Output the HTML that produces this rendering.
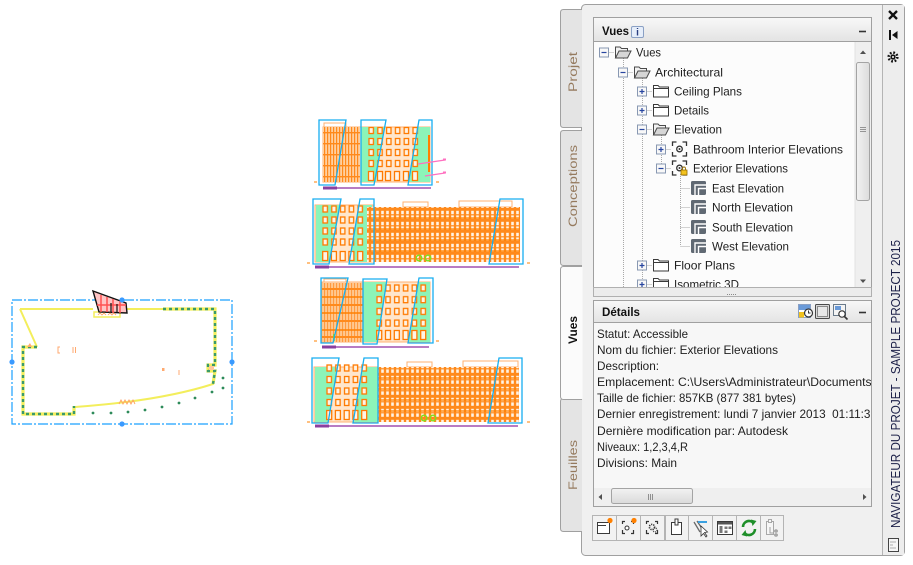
<!DOCTYPE html>
<html><head><meta charset="utf-8"><style>
html,body{margin:0;padding:0;background:#fff;width:913px;height:565px;overflow:hidden}
svg{display:block}
text{font-family:"Liberation Sans",sans-serif}
</style></head><body>
<svg width="913" height="565" viewBox="0 0 913 565" xmlns="http://www.w3.org/2000/svg">
<defs>
 <linearGradient id="hdr" x1="0" y1="0" x2="0" y2="1"><stop offset="0" stop-color="#f8f8f8"/><stop offset="1" stop-color="#e3e3e3"/></linearGradient>
 <linearGradient id="thumb" x1="0" y1="0" x2="1" y2="0"><stop offset="0" stop-color="#f2f2f2"/><stop offset="1" stop-color="#dcdcdc"/></linearGradient>
 <linearGradient id="thumbh" x1="0" y1="0" x2="0" y2="1"><stop offset="0" stop-color="#f2f2f2"/><stop offset="1" stop-color="#dadada"/></linearGradient>
 <pattern id="og" x="0" y="0" width="5" height="11" patternUnits="userSpaceOnUse">
  <rect width="5" height="11" fill="#ff8a1c"/>
  <rect x="1.2" y="1.8" width="2.6" height="3.4" fill="#fff3e4"/>
  <rect x="1.2" y="6.4" width="2.6" height="3.4" fill="#fff3e4"/>
 </pattern>
 <pattern id="lg" x="0" y="0" width="3" height="11" patternUnits="userSpaceOnUse">
  <rect width="3" height="11" fill="#ffd0a0"/>
  <rect x="0" width="1.2" height="11" fill="#ff8a1c"/>
  <rect y="0" width="3" height="1.4" fill="#ff8a1c"/>
 </pattern>
 <pattern id="lg3" x="0" y="0" width="3" height="16" patternUnits="userSpaceOnUse">
  <rect width="3" height="16" fill="#ffc890"/>
  <rect x="0" width="1.1" height="16" fill="#ff9a40"/>
  <rect y="0" width="3" height="2" fill="#ff8a1c"/>
 </pattern>
 <pattern id="w1" x="367" y="126" width="8.8" height="11" patternUnits="userSpaceOnUse">
  <rect x="2" y="1.5" width="4.4" height="6" fill="#fff4e6" stroke="#ff7a00" stroke-width="1.3"/>
 </pattern>
 <pattern id="w2" x="321" y="205" width="8.75" height="11" patternUnits="userSpaceOnUse">
  <rect x="2" y="1" width="4.4" height="6" fill="#fff4e6" stroke="#ff7a00" stroke-width="1.3"/>
 </pattern>
 <pattern id="w3" x="375" y="284" width="8.8" height="11.7" patternUnits="userSpaceOnUse">
  <rect x="2" y="1" width="4.4" height="6" fill="#fff4e6" stroke="#ff7a00" stroke-width="1.3"/>
 </pattern>
 <pattern id="w4" x="325" y="364" width="8.75" height="11.5" patternUnits="userSpaceOnUse">
  <rect x="2" y="1" width="4.4" height="6" fill="#fff4e6" stroke="#ff7a00" stroke-width="1.3"/>
 </pattern>
 <g id="ofold">
  <path d="M1.5,6 V-5 H6 L7.5,-3.5 H13.5 V-1" fill="#f2f2f2" stroke="#4a4a4a" stroke-width="1"/>
  <path d="M1.5,6 L5,-1 H17 L13.5,6 Z" fill="#d6d6d6" stroke="#4a4a4a" stroke-width="1"/>
 </g>
 <g id="cfold">
  <path d="M1.5,-5.5 H6 L7.5,-4 H16.5 V6 H1.5 Z" fill="#fff" stroke="#3a3a3a" stroke-width="1"/>
  <path d="M1.5,-2.5 H16.5" stroke="#3a3a3a" stroke-width="1"/>
 </g>
 <g id="vgrp">
  <path d="M1.5,-3 V-7 H5.5 M11.5,-7 H15.5 V-3 M15.5,3 V7 H11.5 M5.5,7 H1.5 V3" fill="none" stroke="#333" stroke-width="1.3"/>
  <circle cx="8.5" cy="0" r="2.8" fill="#fff" stroke="#333" stroke-width="1.3"/>
  <circle cx="8.5" cy="0" r="1" fill="#333"/>
 </g>
 <g id="elev">
  <rect x="1" y="-7" width="15" height="14" rx="1.5" fill="#606973"/>
  <path d="M5,7 V-3 H16 M8.5,7 V0.5 H16" fill="none" stroke="#fff" stroke-width="1.4"/>
 </g>
 <g id="mn">
  <rect x="-4.5" y="-4.5" width="9" height="9" fill="#f8f8f8" stroke="#8898b2" stroke-width="1"/>
  <path d="M-2.5,0 H2.5" stroke="#2846a0" stroke-width="1.2"/>
 </g>
 <g id="pl">
  <rect x="-4.5" y="-4.5" width="9" height="9" fill="#f8f8f8" stroke="#8898b2" stroke-width="1"/>
  <path d="M-2.5,0 H2.5 M0,-2.5 V2.5" stroke="#2846a0" stroke-width="1.2"/>
 </g>
 <clipPath id="treeclip"><rect x="594" y="42" width="261" height="245"/></clipPath>
 <clipPath id="detclip"><rect x="594" y="323" width="277" height="165"/></clipPath>
</defs>

<rect width="913" height="565" fill="#fff"/>

<!-- ============ LEFT PLAN ============ -->
<rect x="12" y="300" width="220" height="124" fill="none" stroke="#1aa0ff" stroke-width="1.2" stroke-dasharray="10 2 2 2"/>
<path d="M20,309 L93,309 M127,309 L215,309 L215,365 M215,371 L213,384 Q160,401 75,407 M20,309 L37,347" stroke="#f3ee5c" stroke-width="2" fill="none"/>
<path d="M37,347 L23,347 L23,414 L74,414 L74,406 M163,309 L215,309 L215,365 L208,365 L208,371 L215,371 L213,384" stroke="#f3ee5c" stroke-width="3.2" fill="none"/>
<path d="M37,347 L23,347 L23,414 L74,414 L74,406 M163,309 L215,309 L215,365 L208,365 L208,371 L215,371 L213,384" stroke="#3a9a6a" stroke-width="2.4" fill="none" stroke-dasharray="3 3"/>
<rect x="94" y="312" width="26" height="5" fill="none" stroke="#f3ee5c" stroke-width="1.5"/>
<polygon points="93,291 126,303 127,313 99,312" fill="#ffc4c4" stroke="#111" stroke-width="1.4"/>
<path d="M101,295 V312 M107,297 V312 M113,299 V313 M120,301 V313 M97,305 H126" stroke="#ff5050" stroke-width="1.5"/>
<path d="M111,303 V313 M117,304 V313" stroke="#111" stroke-width="1.2"/>
<path d="M98,315 L100,313 L102,315 L104,313 L106,315 M108,315 L110,313 L112,315 L114,313 L116,315" stroke="#ffa060" stroke-width="0.8" fill="none"/>
<g fill="#ffaa70">
 <path d="M27,347 L30,343 L32,347 Z"/>
 <path d="M60,347 H58 V353 H60" stroke="#ffaa70" fill="none"/>
 <rect x="72.5" y="347" width="1" height="6"/><rect x="75" y="347" width="1" height="6"/>
 <rect x="162" y="368" width="2.5" height="3"/>
 <rect x="178.5" y="370" width="1" height="5"/>
 <rect x="209" y="366" width="5" height="4" fill="#ffc8a0"/>
</g>
<path d="M119,404 L121,400 L123,404 L125,400 L127,404 L129,400 L131,404 L133,400 L135,404" stroke="#ffa060" stroke-width="0.9" fill="none"/>
<g fill="#2e8b5a">
 <circle cx="93" cy="413" r="1.4"/><circle cx="111" cy="413" r="1.4"/><circle cx="128" cy="412" r="1.4"/>
 <circle cx="145" cy="410" r="1.4"/><circle cx="162" cy="407" r="1.4"/><circle cx="179" cy="403" r="1.4"/>
 <circle cx="195" cy="398" r="1.4"/><circle cx="212" cy="392" r="1.4"/><circle cx="223" cy="388" r="1.4"/>
 <circle cx="223" cy="378" r="1.4"/>
</g>
<g fill="#3a9aff">
 <circle cx="12" cy="362" r="2.6"/><circle cx="232" cy="362" r="2.6"/>
 <circle cx="122" cy="300" r="2.6"/><circle cx="122" cy="424" r="2.6"/>
</g>

<!-- ============ ELEVATION 1 ============ -->
<rect x="324" y="123" width="22" height="4" fill="none" stroke="#ffb070" stroke-width="1"/>
<rect x="323" y="127" width="107" height="55" fill="#ffe6cc" stroke="#ffb070" stroke-width="1"/>
<rect x="323" y="127" width="37" height="55" fill="url(#lg)"/>
<polygon points="361,127 385,127 376,182 361,182" fill="#8cf4b8"/>
<polygon points="417,127 430,127 430,182 409,182" fill="#8cf4b8"/>
<rect x="367" y="126" width="53" height="44" fill="url(#w1)"/>
<g fill="#fff4e6" stroke="#ff7a00" stroke-width="1.3">
 <rect x="368.5" y="171.5" width="5" height="9"/><rect x="377.5" y="171.5" width="5" height="9"/><rect x="385.5" y="171.5" width="5" height="9"/>
 <rect x="394.5" y="171.5" width="5" height="9"/><rect x="403.5" y="171.5" width="5" height="9"/><rect x="412.5" y="171.5" width="5" height="9"/>
</g>
<rect x="428" y="135" width="2" height="37" fill="#ff8000"/>
<g fill="none" stroke="#17aef0" stroke-width="1.3">
 <polygon points="319,120 346,120 335,185 319,185"/>
 <polygon points="361,120 386,120 374,185 361,185"/>
 <polygon points="419,120 432,120 432,185 408,185"/>
</g>
<path d="M323,188 H431" stroke="#a050b0" stroke-width="1.4"/>
<path d="M323,188 H337" stroke="#8a40a0" stroke-width="3"/>
<path d="M314,182 H317 M436,182 H439" stroke="#ff8000" stroke-width="1"/>
<path d="M418,164 L445,160 M425,176 L445,173" stroke="#ff70c0" stroke-width="1.2"/>
<rect x="443" y="158.5" width="3" height="2" fill="#ff70c0"/><rect x="443" y="171.5" width="3" height="2" fill="#ff70c0"/>

<!-- ============ ELEVATION 2 ============ -->
<rect x="403" y="202" width="25" height="5" fill="none" stroke="#ffb070" stroke-width="1"/>
<rect x="459" y="201" width="53" height="6" fill="none" stroke="#ffb070" stroke-width="1"/>
<rect x="315" y="205" width="58" height="57" fill="#ffe6cc" stroke="#ffb070" stroke-width="1"/>
<polygon points="316,205 340,205 329,262 316,262" fill="#8cf4b8"/>
<polygon points="359,205 372,205 372,262 350,262" fill="#8cf4b8"/>
<rect x="367" y="207" width="153" height="55" fill="url(#og)"/>
<path d="M367,218 H520 M367,229 H520 M367,240 H520 M367,251 H520" stroke="#ff8000" stroke-width="1.2"/>
<rect x="321" y="205" width="44" height="44" fill="url(#w2)"/>
<g fill="#fff4e6" stroke="#ff7a00" stroke-width="1.3">
 <rect x="322.7" y="251.5" width="5" height="9"/><rect x="331.4" y="251.5" width="5" height="9"/><rect x="340.2" y="251.5" width="5" height="9"/>
 <rect x="348.9" y="251.5" width="5" height="9"/><rect x="357.7" y="251.5" width="5" height="9"/>
</g>
<g fill="none" stroke="#17aef0" stroke-width="1.3">
 <polygon points="313,199 341,199 329,264 313,264"/>
 <polygon points="360,199 374,199 374,264 349,264"/>
 <polygon points="500,199 523,199 523,264 489,264"/>
</g>
<circle cx="419" cy="258" r="2.8" fill="none" stroke="#7ee020" stroke-width="1.4"/>
<circle cx="428" cy="258" r="2.8" fill="none" stroke="#7ee020" stroke-width="1.4"/>
<path d="M315,267 H519" stroke="#a050b0" stroke-width="1.4"/>
<path d="M315,267 H329" stroke="#8a40a0" stroke-width="3"/>
<path d="M307,263 H310 M527,263 H530" stroke="#ff8000" stroke-width="1"/>

<!-- ============ ELEVATION 3 ============ -->
<rect x="324" y="279" width="22" height="4" fill="none" stroke="#ffb070" stroke-width="1"/>
<rect x="322" y="282" width="108" height="60" fill="#ffe6cc" stroke="#ffb070" stroke-width="1"/>
<rect x="322" y="283" width="41" height="59" fill="url(#lg3)"/>
<path d="M322,297 H363 M322,313 H363 M322,330 H363" stroke="#ff8000" stroke-width="1.4"/>
<polygon points="363,282 386,282 377,342 363,342" fill="#8cf4b8"/>
<polygon points="418,282 430,282 430,342 409,342" fill="#8cf4b8"/>
<rect x="375" y="284" width="53" height="46.8" fill="url(#w3)"/>
<g fill="#fff4e6" stroke="#ff7a00" stroke-width="1.3">
 <rect x="376.7" y="330.5" width="5" height="9"/><rect x="385.5" y="330.5" width="5" height="9"/><rect x="394.3" y="330.5" width="5" height="9"/>
 <rect x="403.1" y="330.5" width="5" height="9"/><rect x="411.9" y="330.5" width="5" height="9"/><rect x="420.7" y="330.5" width="5" height="9"/>
</g>
<path d="M334,334 V341" stroke="#7ee020" stroke-width="1.5"/>
<g fill="none" stroke="#17aef0" stroke-width="1.3">
 <polygon points="321,278 348,278 333,343 321,343"/>
 <polygon points="363,279 387,279 377,344 363,344"/>
 <polygon points="419,278 433,278 433,343 408,343"/>
</g>
<path d="M322,347 H429" stroke="#a050b0" stroke-width="1.4"/>
<path d="M322,347 H336" stroke="#8a40a0" stroke-width="3"/>
<path d="M314,341 H317 M436,341 H439" stroke="#ff8000" stroke-width="1"/>

<!-- ============ ELEVATION 4 ============ -->
<rect x="407" y="362" width="25" height="5" fill="none" stroke="#ffb070" stroke-width="1"/>
<rect x="463" y="361" width="55" height="6" fill="none" stroke="#ffb070" stroke-width="1"/>
<rect x="314" y="367" width="64" height="55" fill="#ffe6cc" stroke="#ffb070" stroke-width="1"/>
<polygon points="315,367 338,367 328,422 315,422" fill="#8cf4b8"/>
<polygon points="363,367 378,367 378,422 354,422" fill="#8cf4b8"/>
<rect x="378" y="367" width="141" height="55" fill="url(#og)"/>
<path d="M378,378 H519 M378,389 H519 M378,400 H519 M378,411 H519" stroke="#ff8000" stroke-width="1.2"/>
<rect x="325" y="364" width="44" height="46" fill="url(#w4)"/>
<g fill="#fff4e6" stroke="#ff7a00" stroke-width="1.3">
 <rect x="326.7" y="410.5" width="5" height="9"/><rect x="335.4" y="410.5" width="5" height="9"/><rect x="344.2" y="410.5" width="5" height="9"/>
 <rect x="352.9" y="410.5" width="5" height="9"/><rect x="361.7" y="410.5" width="5" height="9"/>
</g>
<g fill="none" stroke="#17aef0" stroke-width="1.3">
 <polygon points="312,358 339,358 328,423 312,423"/>
 <polygon points="364,358 378,358 378,423 353,423"/>
 <polygon points="499,358 522,358 522,423 488,423"/>
</g>
<circle cx="424" cy="418" r="2.8" fill="none" stroke="#7ee020" stroke-width="1.4"/>
<circle cx="433" cy="418" r="2.8" fill="none" stroke="#7ee020" stroke-width="1.4"/>
<path d="M315,426 H518" stroke="#a050b0" stroke-width="1.4"/>
<path d="M315,426 H329" stroke="#8a40a0" stroke-width="3"/>
<path d="M307,422 H310 M527,422 H530" stroke="#ff8000" stroke-width="1"/>

<!-- ============ PANEL ============ -->
<rect x="581.5" y="4.5" width="323" height="551" rx="4" fill="#f0f0f0" stroke="#a0a0a0"/>
<rect x="882.5" y="5" width="21.5" height="550" fill="#ededed"/>
<path d="M882.5,5 V555" stroke="#b4b4b4"/>

<!-- tabs -->
<g stroke="#a0a0a0" stroke-width="1">
 <path d="M582,9.5 H563.5 Q560.5,9.5 560.5,12.5 V124.5 Q560.5,127.5 563.5,127.5 H582" fill="#e4e4e4"/>
 <path d="M582,130.5 H563.5 Q560.5,130.5 560.5,133.5 V262.5 Q560.5,265.5 563.5,265.5 H582" fill="#e4e4e4"/>
 <path d="M582,398.5 H563.5 Q560.5,398.5 560.5,401.5 V528.5 Q560.5,531.5 563.5,531.5 H582" fill="#e4e4e4"/>
 <path d="M582,266.5 H563.5 Q560.5,266.5 560.5,269.5 V396.5 Q560.5,399.5 563.5,399.5 H582" fill="#fbfbfb"/>
</g>
<rect x="581" y="267" width="1.5" height="132" fill="#fbfbfb"/>
<g font-size="12" fill="#957a5e">
 <text transform="translate(577,72) rotate(-90)" text-anchor="middle" textLength="40" lengthAdjust="spacingAndGlyphs">Projet</text>
 <text transform="translate(577,186) rotate(-90)" text-anchor="middle" textLength="82" lengthAdjust="spacingAndGlyphs">Conceptions</text>
 <text transform="translate(577,465) rotate(-90)" text-anchor="middle" textLength="50" lengthAdjust="spacingAndGlyphs">Feuilles</text>
</g>
<text transform="translate(577,330) rotate(-90)" text-anchor="middle" font-size="12" font-weight="bold" fill="#111" textLength="28" lengthAdjust="spacingAndGlyphs">Vues</text>

<!-- right strip -->
<path d="M889,11 L897,19 M897,11 L889,19" stroke="#111" stroke-width="2.3"/>
<rect x="889" y="30" width="2" height="10" fill="#111"/>
<polygon points="897.5,31 892,35 897.5,39" fill="#111"/>
<circle cx="893" cy="57" r="4.3" fill="none" stroke="#111" stroke-width="2.6" stroke-dasharray="1.7 1.7"/>
<circle cx="893" cy="57" r="2.6" fill="#111"/>
<circle cx="893" cy="57" r="1" fill="#fff"/>
<text transform="translate(900,384) rotate(-90)" text-anchor="middle" font-size="12.5" fill="#1c2048" textLength="288" lengthAdjust="spacingAndGlyphs">NAVIGATEUR DU PROJET - SAMPLE PROJECT 2015</text>
<rect x="888.5" y="538.5" width="10" height="13" fill="#f6f6f6" stroke="#444"/>
<path d="M890.5,542 H896.5 M890.5,545 H893 M890.5,548 H896.5" stroke="#666" stroke-width="1" stroke-dasharray="1 1"/>

<!-- Vues section -->
<rect x="593.5" y="17.5" width="278" height="24" fill="url(#hdr)" stroke="#a0a0a0"/>
<text x="602" y="35" font-size="12" font-weight="bold" fill="#111" textLength="27" lengthAdjust="spacingAndGlyphs">Vues</text>
<rect x="631.5" y="26.5" width="12" height="11" rx="1.5" fill="#e6eefa" stroke="#8aa0c4"/>
<text x="637.5" y="35.5" font-size="10" font-weight="bold" fill="#2a3e80" text-anchor="middle" font-family="Liberation Serif, serif">i</text>
<path d="M859,31.5 H866" stroke="#333" stroke-width="1.6"/>
<rect x="593.5" y="41.5" width="278" height="246" fill="#fcfcfc" stroke="#a0a0a0"/>

<g clip-path="url(#treeclip)">
 <g stroke="#a8a8a8" stroke-width="1" stroke-dasharray="1 1" fill="none">
  <path d="M623.5,58 V287 M642.5,78 V287 M661.5,135 V168 M680.5,174 V246"/>
  <path d="M608.5,52.5 H614 M627.5,72.5 H633 M646.5,91.5 H652 M646.5,110.5 H652 M646.5,129.5 H652 M665.5,149.5 H671 M665.5,168.5 H671 M680.5,188.5 H690 M680.5,207.5 H690 M680.5,227.5 H690 M680.5,246.5 H690 M646.5,265.5 H652 M646.5,284.5 H652"/>
 </g>
 <use href="#mn" x="604" y="52.5"/><use href="#ofold" x="614" y="52"/>
 <use href="#mn" x="623" y="72.5"/><use href="#ofold" x="633" y="72"/>
 <use href="#pl" x="642" y="91.5"/><use href="#cfold" x="652" y="91"/>
 <use href="#pl" x="642" y="110.5"/><use href="#cfold" x="652" y="110"/>
 <use href="#mn" x="642" y="129.5"/><use href="#ofold" x="652" y="129"/>
 <use href="#pl" x="661" y="149.5"/><use href="#vgrp" x="671" y="149"/>
 <use href="#mn" x="661" y="168.5"/><use href="#vgrp" x="671" y="168"/>
 <rect x="681" y="170" width="6" height="5" fill="#f2c21e" stroke="#9a7000" stroke-width="0.8"/>
 <path d="M682.5,170 V168.5 A1.5,1.5 0 0 1 685.5,168.5 V170" fill="none" stroke="#9a7000" stroke-width="0.9"/>
 <use href="#elev" x="690" y="188"/>
 <use href="#elev" x="690" y="207"/>
 <use href="#elev" x="690" y="227"/>
 <use href="#elev" x="690" y="246"/>
 <use href="#pl" x="642" y="265.5"/><use href="#cfold" x="652" y="265"/>
 <use href="#pl" x="642" y="284.5"/><use href="#cfold" x="652" y="284"/>
 <g font-size="12" fill="#1e1e1e">
  <text x="636" y="56.5" textLength="25" lengthAdjust="spacingAndGlyphs">Vues</text>
  <text x="655" y="76.5" textLength="68" lengthAdjust="spacingAndGlyphs">Architectural</text>
  <text x="674" y="95.5" textLength="68" lengthAdjust="spacingAndGlyphs">Ceiling Plans</text>
  <text x="674" y="114.5" textLength="35" lengthAdjust="spacingAndGlyphs">Details</text>
  <text x="674" y="133.5" textLength="48" lengthAdjust="spacingAndGlyphs">Elevation</text>
  <text x="693" y="153.5" textLength="150" lengthAdjust="spacingAndGlyphs">Bathroom Interior Elevations</text>
  <text x="693" y="172.5" textLength="95" lengthAdjust="spacingAndGlyphs">Exterior Elevations</text>
  <text x="712" y="192.5" textLength="72" lengthAdjust="spacingAndGlyphs">East Elevation</text>
  <text x="712" y="211.5" textLength="81" lengthAdjust="spacingAndGlyphs">North Elevation</text>
  <text x="712" y="231.5" textLength="81" lengthAdjust="spacingAndGlyphs">South Elevation</text>
  <text x="712" y="250.5" textLength="77" lengthAdjust="spacingAndGlyphs">West Elevation</text>
  <text x="674" y="269.5" textLength="61" lengthAdjust="spacingAndGlyphs">Floor Plans</text>
  <text x="674" y="288.5" textLength="65" lengthAdjust="spacingAndGlyphs">Isometric 3D</text>
 </g>
</g>
<!-- vertical scrollbar -->
<rect x="855" y="42" width="16" height="245" fill="#efefef"/>
<path d="M855,42 V287" stroke="#e2e2e2"/>
<polygon points="860,54 866,54 863,50.5" fill="#505050"/>
<polygon points="860,279.5 866,279.5 863,283" fill="#505050"/>
<rect x="856.5" y="62.5" width="13" height="138" rx="2" fill="url(#thumb)" stroke="#a4a4a4"/>
<path d="M860,127.5 H866 M860,129.5 H866 M860,131.5 H866" stroke="#7a7a7a" stroke-width="0.8"/>

<!-- splitter -->
<rect x="593.5" y="287.5" width="278" height="9" fill="#ececec" stroke="#b0b0b0"/>
<g fill="#8a8a8a"><rect x="727" y="294" width="1" height="1"/><rect x="729" y="294" width="1" height="1"/><rect x="731" y="294" width="1" height="1"/><rect x="733" y="294" width="1" height="1"/><rect x="735" y="294" width="1" height="1"/></g>

<!-- Details section -->
<rect x="593.5" y="300.5" width="278" height="22" fill="url(#hdr)" stroke="#a0a0a0"/>
<text x="602" y="316" font-size="12" font-weight="bold" fill="#111" textLength="38" lengthAdjust="spacingAndGlyphs">Détails</text>
<rect x="798.5" y="304.5" width="12" height="13" fill="#fff" stroke="#8aa0c4"/>
<rect x="799" y="305" width="11" height="5" fill="#6a9ad8"/>
<rect x="799" y="312" width="5" height="5.5" fill="#f2c21e"/>
<circle cx="808.5" cy="313" r="4" fill="#fff" stroke="#333" stroke-width="1.2"/>
<path d="M808.5,310.5 V313 H810.5" stroke="#333" stroke-width="1" fill="none"/>
<rect x="815.5" y="304.5" width="14" height="14" rx="1" fill="#d8d8d8" stroke="#4a4a4a"/>
<rect x="817.5" y="306.5" width="10" height="10" fill="#e8e8e8" stroke="#8a8a8a"/>
<rect x="833.5" y="304.5" width="12" height="11" fill="#f4f4f4" stroke="#6a7a8a"/>
<rect x="835" y="306" width="6" height="4" fill="#6a9ad8"/>
<circle cx="842" cy="314" r="3.2" fill="#fff" stroke="#333" stroke-width="1.2"/>
<path d="M844.5,316.5 L847.5,319.5" stroke="#333" stroke-width="1.6"/>
<path d="M859,312.5 H866" stroke="#333" stroke-width="1.6"/>

<rect x="593.5" y="322.5" width="278" height="184" fill="#f7f7f7" stroke="#a0a0a0"/>
<g clip-path="url(#detclip)" font-size="12" fill="#1e1e1e">
 <text x="597" y="338" textLength="91" lengthAdjust="spacingAndGlyphs">Statut: Accessible</text>
 <text x="597" y="354" textLength="181" lengthAdjust="spacingAndGlyphs">Nom du fichier: Exterior Elevations</text>
 <text x="597" y="370" textLength="62" lengthAdjust="spacingAndGlyphs">Description:</text>
 <text x="597" y="386" textLength="278" lengthAdjust="spacingAndGlyphs">Emplacement: C:\Users\Administrateur\Documents\</text>
 <text x="597" y="402" textLength="199" lengthAdjust="spacingAndGlyphs">Taille de fichier: 857KB (877 381 bytes)</text>
 <text x="597" y="418" textLength="280" lengthAdjust="spacingAndGlyphs">Dernier enregistrement: lundi 7 janvier 2013&#160; 01:11:32</text>
 <text x="597" y="435" textLength="191" lengthAdjust="spacingAndGlyphs">Dernière modification par: Autodesk</text>
 <text x="597" y="451" textLength="91" lengthAdjust="spacingAndGlyphs">Niveaux: 1,2,3,4,R</text>
 <text x="597" y="467" textLength="80" lengthAdjust="spacingAndGlyphs">Divisions: Main</text>
</g>
<!-- horizontal scrollbar -->
<rect x="594" y="488" width="277" height="18" fill="#efefef"/>
<polygon points="602,494 602,500 598.5,497" fill="#505050"/>
<polygon points="863,494 863,500 866.5,497" fill="#505050"/>
<rect x="611.5" y="488.5" width="81" height="15" rx="2" fill="url(#thumbh)" stroke="#a4a4a4"/>
<path d="M648.5,494 V500 M650.5,494 V500 M652.5,494 V500" stroke="#7a7a7a" stroke-width="0.8"/>

<!-- toolbar -->
<g fill="#f2f2f2" stroke="#b4b4b4">
 <rect x="592.5" y="515.5" width="24" height="25"/>
 <rect x="616.5" y="515.5" width="24" height="25"/>
 <rect x="640.5" y="515.5" width="24" height="25"/>
 <rect x="665.5" y="515.5" width="23" height="25"/>
 <rect x="688.5" y="515.5" width="24" height="25"/>
 <rect x="712.5" y="515.5" width="24" height="25"/>
 <rect x="736.5" y="515.5" width="24" height="25"/>
 <rect x="760.5" y="515.5" width="23" height="25"/>
</g>
<!-- btn1 -->
<rect x="597.5" y="522.5" width="12" height="11" fill="#fff" stroke="#3a3a3a"/>
<path d="M597.5,525.5 H606" stroke="#3a3a3a"/>
<circle cx="610" cy="520.5" r="2.6" fill="#ff8000"/>
<!-- btn2 -->
<path d="M622.5,524 V521.5 H625 M631,521.5 H633.5 V524 M633.5,530 V533.5 H631 M625,533.5 H622.5 V530" fill="none" stroke="#333" stroke-width="1.2"/>
<circle cx="627" cy="528" r="2" fill="#fff" stroke="#333"/>
<circle cx="634" cy="520.5" r="2.6" fill="#ff8000"/>
<!-- btn3 -->
<path d="M646.5,524 V521.5 H649 M655,521.5 H657.5 V524 M657.5,530 V533.5 H655 M649,533.5 H646.5 V530" fill="none" stroke="#333" stroke-width="1.2"/>
<circle cx="652" cy="527" r="2.6" fill="none" stroke="#333" stroke-width="1.6" stroke-dasharray="1.2 1"/>
<circle cx="655" cy="530" r="2" fill="none" stroke="#444" stroke-width="1.3" stroke-dasharray="1 1"/>
<!-- btn4 -->
<rect x="671.5" y="522.5" width="10" height="12" fill="#fff" stroke="#3a3a3a"/>
<rect x="675" y="519" width="3" height="6" fill="#fff" stroke="#3a3a3a"/>
<!-- btn5 -->
<path d="M694,522 L700,532 M697,521 L703,530" stroke="#6a6a6a" stroke-width="1.3"/>
<path d="M698,522 H707" stroke="#3aa0e0" stroke-width="2"/>
<polygon points="701,526 701,536 703.5,533.5 706,537 707,536 704.5,532.5 707.5,532" fill="#fff" stroke="#333" stroke-width="0.8"/>
<!-- btn6 -->
<rect x="717.5" y="521.5" width="15" height="13" fill="#fff" stroke="#3a3a3a"/>
<rect x="718" y="522" width="14" height="2.5" fill="#555"/>
<rect x="719.5" y="526" width="3" height="7" fill="#777"/>
<rect x="724.5" y="526.5" width="3" height="2.5" fill="#777"/><rect x="728.5" y="526.5" width="3" height="2.5" fill="#777"/>
<rect x="724.5" y="530.5" width="3" height="2.5" fill="#777"/>
<!-- btn7 refresh -->
<path d="M743,527 A6,6 0 0 1 753.5,523" fill="none" stroke="#1f8f2a" stroke-width="2.6"/>
<polygon points="751,519.5 756.5,521 752.5,526" fill="#1f8f2a"/>
<path d="M755,529 A6,6 0 0 1 744.5,533" fill="none" stroke="#1f8f2a" stroke-width="2.6"/>
<polygon points="747,536.5 741.5,535 745.5,530" fill="#1f8f2a"/>
<!-- btn8 -->
<rect x="766.5" y="521.5" width="7" height="13" fill="#f6f6f6" stroke="#a8a8a8"/>
<rect x="768.5" y="519.5" width="3" height="3" fill="#f6f6f6" stroke="#a8a8a8"/>
<path d="M770,527 V533 H774 M774,531 H778 M774,535 H778" stroke="#a0a0a0" fill="none"/>
<circle cx="776" cy="531" r="1.3" fill="none" stroke="#a0a0a0"/>
<circle cx="776" cy="535" r="1.3" fill="none" stroke="#a0a0a0"/>
</svg>
</body></html>
